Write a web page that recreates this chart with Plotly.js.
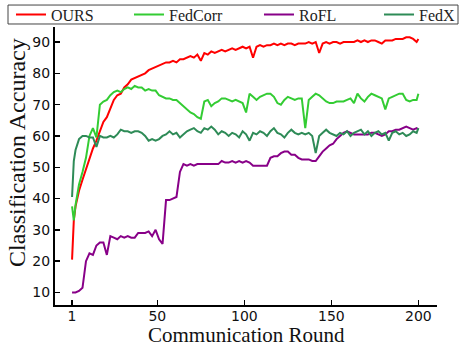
<!DOCTYPE html>
<html>
<head>
<meta charset="utf-8">
<script src="https://cdn.plot.ly/plotly-3.0.1.min.js"></script>
<style>html,body{margin:0;padding:0;background:#fff;}#chart{width:460px;height:347px;}</style>
</head>
<body>
<div id="chart"></div>
<script>
// Communication rounds (sampled)
var rounds = [1,2,3,5,7,9,11,13,15,17,19,21,23,25,27,29,31,33,35,37,39,41,43,45,47,49,
  51,53,55,57,59,61,63,65,67,69,71,73,75,77,79,81,83,85,87,89,91,93,95,97,99,
  101,103,105,107,109,111,113,115,117,119,121,123,125,127,129,131,133,135,137,139,141,143,145,147,149,
  151,153,155,157,159,161,163,165,167,169,171,173,175,177,179,181,183,185,187,189,191,193,195,197,199,200];

var ours = [20.5,33,37.5,42.5,46,49.5,52.5,56,58.5,61.5,64.5,66,69,71.5,73,73.5,75.5,76.5,78,78.5,79,79.5,80,81,81.5,82,
  82.5,83,83.5,83.5,84,83.5,84.5,84.5,85,85.5,85,86,84,86.5,86,87,86.5,87,87.5,87,87.5,88,87.5,88,88.5,
  88,88.5,85,88.5,89,88.5,89,89,89.5,89,89.5,89,89.5,89.5,89,89.5,89.5,89.5,90,89.5,90,86.5,89.5,90,89.5,
  90,90,89.5,90,90,90,90,90.5,90,90.5,90,90.5,90.5,90,89.5,90.5,90.5,90.5,91,91,91,91.5,91.5,91,90,91];

var fedcorr = [37.5,33,38,44.5,48.5,53,60,62.5,59.5,70,71,71.5,73,74,74.5,74,75,75.5,75,76,75.5,75.5,74.5,75,74.5,74.5,
  73,72.5,72,72,71.5,71.5,70.5,69.5,68.5,67.5,67,66,65.5,71,71.5,69.5,70.5,71,72,72,71.5,71,71.5,71,70.5,
  67.5,73.5,72.5,71.5,72.5,73,73.5,73.5,72.5,70.5,70,71.5,72.5,72,71.5,72,72,62.5,71.5,72.5,73.5,73,72,71,70.5,
  70.5,71,71,71,71.5,72,70.5,73.5,72,71,72.5,73.5,73,72.5,72,68.5,72,72.5,73,73.5,73.5,71.5,71,71.5,71.5,73.5];

var rofl = [10,10,10,10.5,11.5,20,22.5,22,25,26,26,22,28,27.5,27,28,27.5,28,27.5,27.5,29,29,29,29.5,28,30,
  27,25.5,39.5,39.5,40,40.5,48.5,51,50.5,51,50.5,51,51,51,51,51,51,51,52,51.5,51.5,52,51.5,52,51.5,
  52,51.5,50.5,50.5,50.5,50.5,50.5,53,53.5,53.5,54.5,55,55,54,54,53,52.5,52.5,52.5,52,52,53.5,55,56,57,
  57.5,59,60,61,61.5,61,60.5,60.5,60.5,60.5,60.5,61,61,60.5,60,60.5,61.5,61.5,62,62,62.5,63,62.5,62,62.5,62];

var fedx = [40.5,52,55.5,59,60,60,59.5,59.5,56.5,60,59.5,59.5,60,59.5,60.5,62,61.5,61.5,61,61.5,61.5,61,60,58.5,59,58.5,
  59,60,60.5,61.5,60.5,61,59.5,60.5,61.5,62,62.5,61.5,61,62.5,62,63,62,60.5,61.5,61,60,61,60.5,59.5,61.5,
  60.5,58.5,61,60.5,61.5,61,60,61.5,62.5,61,60.5,59.5,61,62,61,60.5,61,60.5,61,60,54.5,60,61,62,61,
  60.5,60,61,60.5,61.5,60,61,61.5,62,60.5,61.5,60,61,61.5,60.5,61,58.5,61,61.5,60.5,61,60,60.5,61.5,61,62.5];

var seriesNames = ["OURS", "FedCorr", "RoFL", "FedX"];
var seriesData = [ours, fedcorr, rofl, fedx];
var seriesColors = ["#ff0000", "#33cc33", "#880088", "#2e8b57"];
var legendIds = ["legend", "legend2", "legend3", "legend4"];

var xTicks = [1, 50, 100, 150, 200];
var yTicks = [10, 20, 30, 40, 50, 60, 70, 80, 90];

var traces = seriesNames.map(function (n, i) {
  return {
    x: rounds, y: seriesData[i], name: n, type: "scatter", mode: "lines",
    line: {color: seriesColors[i], width: 2}, legend: legendIds[i]
  };
});

var serif = "Liberation Serif, Times New Roman, serif";
var legendX = [-0.1152, 0.1937, 0.534, 0.8482];

var layout = {
  width: 460, height: 347,
  margin: {l: 55, r: 23, t: 27, b: 42, autoexpand: false},
  paper_bgcolor: "#fff", plot_bgcolor: "#fff",
  showlegend: true,
  xaxis: {
    range: [-8.8, 210.7], tickvals: xTicks, ticktext: xTicks.map(String),
    showgrid: false, zeroline: false, showline: true, linecolor: "#000", linewidth: 2,
    ticks: "inside", ticklen: 5, tickwidth: 1.5, tickcolor: "#000", ticklabelstandoff: -3,
    tickfont: {family: "DejaVu Sans, sans-serif", size: 14, color: "#111"}
  },
  yaxis: {
    range: [6, 94.8], tickvals: yTicks,
    showgrid: false, zeroline: false, showline: true, linecolor: "#000", linewidth: 2,
    ticks: "inside", ticklen: 5, tickwidth: 1.5, tickcolor: "#000",
    tickfont: {family: "DejaVu Sans, sans-serif", size: 14, color: "#111"}
  },
  shapes: [{
    type: "rect", xref: "paper", yref: "paper",
    x0: -0.123, x1: 1.055, y0: 1.0108, y1: 1.079,
    line: {color: "#444", width: 1}, fillcolor: "rgba(0,0,0,0)", layer: "above"
  }],
  annotations: [{
    text: "Classification Accuracy", xref: "paper", yref: "paper",
    x: -0.1, y: 0.55, xanchor: "center", yanchor: "middle", textangle: -90, showarrow: false,
    font: {family: serif, size: 24, color: "#111"}
  }, {
    text: "Communication Round", xref: "paper", yref: "paper",
    x: 0.5, y: -0.158, xanchor: "center", yanchor: "bottom", showarrow: false,
    font: {family: serif, size: 21, color: "#111"}
  }]
};

legendIds.forEach(function (id, i) {
  layout[id] = {
    orientation: "h", x: legendX[i], xanchor: "left", y: 1.045, yanchor: "middle",
    borderwidth: 0, bgcolor: "rgba(0,0,0,0)",
    font: {family: serif, size: 16, color: "#222"}
  };
});

Plotly.newPlot("chart", traces, layout, {displayModeBar: false, staticPlot: true});
</script>
</body>
</html>
